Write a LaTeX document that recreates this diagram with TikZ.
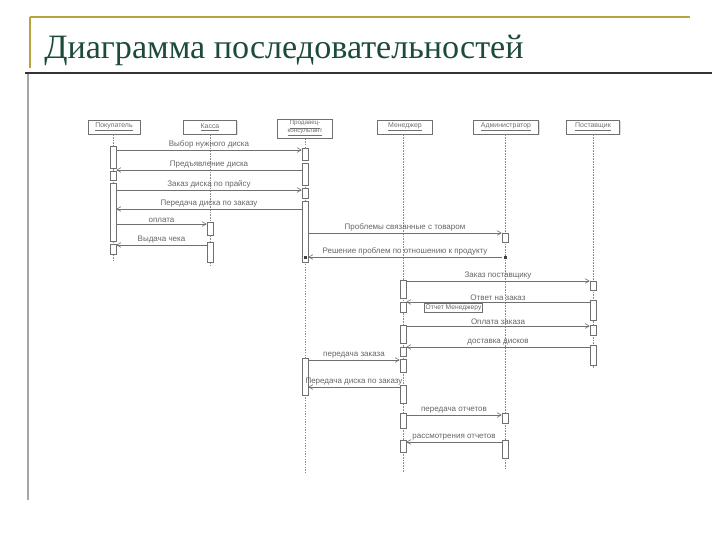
\documentclass[tikz,border=0pt]{standalone}
\usepackage{fontspec}
\setmainfont{Liberation Serif}
\newfontfamily\lblfont{Liberation Sans}
\usetikzlibrary{arrows.meta,shadows}
\definecolor{titlegreen}{HTML}{1D4B3A}
\definecolor{gold}{HTML}{B8A23C}
\definecolor{inkgray}{HTML}{707070}
\tikzset{
  hdr/.style={draw=inkgray, fill=white, line width=0.5pt, inner sep=1.2pt, minimum width=40pt, minimum height=10.5pt,
     font=\lblfont\fontsize{5.2}{5.6}\selectfont, text=inkgray, align=center,
     drop shadow={shadow xshift=0.8pt, shadow yshift=-0.8pt, fill=black!25}},
  lifeline/.style={draw=inkgray!80, dashed, dash pattern=on 1.2pt off 0.8pt, line width=0.35pt},
  actbox/.style={draw=inkgray, fill=white, line width=0.45pt, minimum width=4.5pt, inner sep=0pt},
  msg/.style={draw=inkgray, line width=0.45pt, -{Straight Barb[length=3pt,width=3.5pt]}},
  lbl/.style={font=\lblfont\fontsize{6}{6.5}\selectfont, text=inkgray!90!black, inner sep=1pt},
  notebox/.style={draw=inkgray, line width=0.45pt, font=\lblfont\fontsize{5}{5.5}\selectfont, text=inkgray!90!black, inner sep=1pt}
}
\newcommand{\actv}[4]{\node[actbox, minimum height={(#4-#3)*0.75pt}, anchor=north] (#1) at (#2,#3) {};}
\begin{document}
\begin{tikzpicture}[x=0.75pt,y=-0.75pt]
\useasboundingbox (0,0) rectangle (720,540);
% frame lines
\draw[gold, line width=1.3pt] (30,17) -- (690,17);
\draw[gold, line width=1.3pt] (30,17) -- (30,68);
\draw[black!80, line width=1.6pt] (25,73) -- (712,73);
\draw[black!35, line width=0.8pt] (28,74) -- (28,500);
\node[anchor=base west, text=titlegreen, font=\fontsize{25.6}{28}\selectfont, inner sep=0pt] (title) at (44,58) {Диаграмма последовательностей};

% lifeline x positions
\coordinate (xP) at (113,0);
\coordinate (xK) at (210,0);
\coordinate (xS) at (305,0);
\coordinate (xM) at (403,0);
\coordinate (xA) at (505,0);
\coordinate (xV) at (593,0);

% headers
\node[hdr, minimum width=39pt] (hP) at (114,127) {\underline{Покупатель}};
\node[hdr, minimum width=40pt] (hK) at (210,127) {\underline{Касса}};
\node[hdr, minimum width=41pt, inner sep=1.3pt, font=\lblfont\fontsize{4.7}{6}\selectfont] (hS) at (305,128.5) {\underline{Продавец-}\\[-0.3pt]\underline{консультант}};
\node[hdr, minimum width=41pt] (hM) at (405,127) {\underline{Менеджер}};
\node[hdr, minimum width=49pt] (hA) at (506,127) {\underline{Администратор}};
\node[hdr, minimum width=40pt] (hV) at (593,127) {\underline{Поставщик}};

% lifelines
\coordinate (eP) at (113,262);
\coordinate (eK) at (210,266);
\coordinate (eS) at (305,472);
\coordinate (eM) at (403,472);
\coordinate (eA) at (505,468);
\coordinate (eV) at (593,368);
\draw[lifeline] (hP.south -| xP) -- (eP);
\draw[lifeline] (hK.south -| xK) -- (eK);
\draw[lifeline] (hS.south -| xS) -- (eS);
\draw[lifeline] (hM.south -| xM) -- (eM);
\draw[lifeline] (hA.south -| xA) -- (eA);
\draw[lifeline] (hV.south -| xV) -- (eV);

% activations
\actv{aP1}{113}{146}{168}
\actv{aP2}{113}{171}{180}
\actv{aP3}{113}{183}{241}
\actv{aP4}{113}{244}{254}
\actv{aK1}{210}{222}{235}
\actv{aK2}{210}{242}{262}
\actv{aS1}{305}{148}{160}
\actv{aS2}{305}{163}{185}
\actv{aS3}{305}{188}{198}
\actv{aS4}{305}{201}{262}
\actv{aS5}{305}{358}{395}
\actv{aM1}{403}{280}{298}
\actv{aM2}{403}{302}{312}
\actv{aM3}{403}{325}{343}
\actv{aM4}{403}{347}{356}
\actv{aM5}{403}{359}{372}
\actv{aM6}{403}{385}{403}
\actv{aM7}{403}{413}{428}
\actv{aM8}{403}{440}{452}
\actv{aA1}{505}{233}{242}
\actv{aA2}{505}{413}{423}
\actv{aA3}{505}{440}{458}
\actv{aV1}{593}{281}{290}
\actv{aV2}{593}{300}{320}
\actv{aV3}{593}{325}{335}
\actv{aV4}{593}{345}{365}

% messages
\draw[msg] (aP1.east |- 0,150) -- node[lbl, above] {Выбор нужного диска} (aS1.west |- 0,150);
\draw[msg] (aS2.west |- 0,170) -- node[lbl, above] {Предъявление диска} (aP2.east |- 0,170);
\draw[msg] (aP3.east |- 0,190) -- node[lbl, above] {Заказ диска по прайсу} (aS3.west |- 0,190);
\draw[msg] (aS4.west |- 0,209) -- node[lbl, above] {Передача диска по заказу} (aP3.east |- 0,209);
\draw[msg] (aP3.east |- 0,224) -- node[lbl, above] {оплата} (aK1.west |- 0,224);
\draw[msg] (aK2.west |- 0,245) -- node[lbl, above] {Выдача чека} (aP4.east |- 0,245);
\draw[msg] (aS4.east |- 0,233) -- node[lbl, above] {Проблемы связанные с товаром} (aA1.west |- 0,233);
\draw[msg] (aA1.west |- 0,257) -- node[lbl, above] {Решение проблем по отношению к продукту} (aS4.east |- 0,257);
\fill[black!75] (303.5,255.5) rectangle (306.5,258.5);
\fill[black!75] (503.5,255.5) rectangle (506.5,258.5);
\draw[msg] (aM1.east |- 0,281) -- node[lbl, above] {Заказ поставщику} (aV1.west |- 0,281);
\draw[msg] (aV2.west |- 0,302) -- node[lbl, above] {Ответ на заказ} (aM2.east |- 0,302);
\node[notebox, anchor=north west] (note) at (424,303) {Отчет Менеджеру};
\draw[msg] (aM3.east |- 0,326) -- node[lbl, above] {Оплата заказа} (aV3.west |- 0,326);
\draw[msg] (aV4.west |- 0,347) -- node[lbl, above] {доставка дисков} (aM4.east |- 0,347);
\draw[msg] (aS5.east |- 0,360) -- node[lbl, above] {передача заказа} (aM5.west |- 0,360);
\draw[msg] (aM6.west |- 0,387) -- node[lbl, above] {Передача диска по заказу} (aS5.east |- 0,387);
\draw[msg] (aM7.east |- 0,415) -- node[lbl, above] {передача отчетов} (aA2.west |- 0,415);
\draw[msg] (aA3.west |- 0,442) -- node[lbl, above] {рассмотрения отчетов} (aM8.east |- 0,442);
\end{tikzpicture}
\end{document}
